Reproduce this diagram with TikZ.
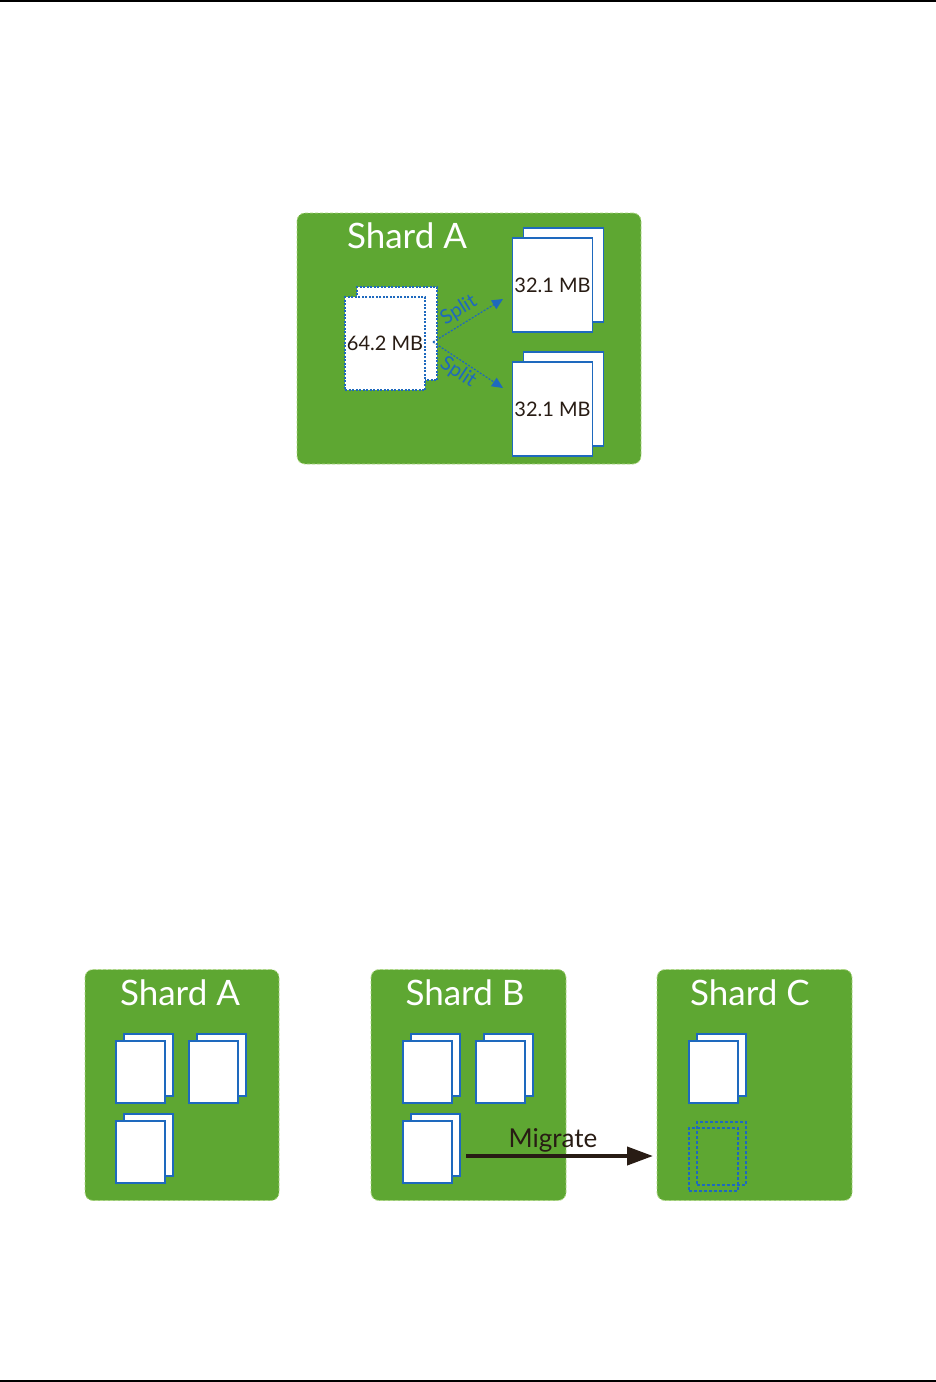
\documentclass[tikz,border=0pt]{standalone}
\usepackage{fontspec}
\setmainfont{Lato}
\usetikzlibrary{arrows.meta,shadows}
\definecolor{shardgreen}{RGB}{94,167,50}
\definecolor{shardedge}{RGB}{172,214,130}
\definecolor{chunkblue}{RGB}{30,105,190}
\definecolor{inkbrown}{RGB}{40,28,20}

\begin{document}
\begin{tikzpicture}[x=1pt, y=-1pt,
    shard/.style={draw=shardedge, fill=shardgreen, dash pattern=on 3pt off 2pt, line width=0.8pt, rounded corners=8pt, inner sep=0pt},
    title/.style={text=white, anchor=base, font=\fontsize{35}{40}\selectfont},
    page/.style={draw=chunkblue, fill=white, line width=1.3pt, inner sep=0pt},
    ghost/.style={dash pattern=on 3pt off 2pt},
    chunk/.style={page, minimum width=49pt, minimum height=62pt, copy shadow={shadow xshift=8pt, shadow yshift=7pt, page}},
    bigchunk/.style={page, minimum width=80pt, minimum height=94pt, text=inkbrown, font=\fontsize{20}{24}\selectfont},
    split/.style={chunkblue, line width=1.2pt, dash pattern=on 2pt off 1.5pt, -{Triangle[length=11pt, width=10pt]}},
    splitlabel/.style={text=chunkblue, inner sep=1pt, font=\fontsize{20}{24}\selectfont},
    migrate/.style={inkbrown, line width=4pt, -{Triangle[length=26pt, width=18pt]}}]
    \useasboundingbox (0,0) rectangle (936,1382);
    \draw[line width=1.5pt] (0,0.75) -- (936,0.75);
    \draw[line width=1.5pt] (0,1381) -- (936,1381);

    % Splitting a chunk
    \node[shard, minimum width=344pt, minimum height=251pt] (topshard) at (469,338.5) {};
    \node[title] (toptitle) at (407,248) {Shard A};
    \node[bigchunk, minimum height=93pt, dash pattern=on 2pt off 1.5pt,
        copy shadow={shadow xshift=12pt, shadow yshift=10pt, page, dash pattern=on 2pt off 1.5pt}] (big) at (385,343.5) {64.2 MB};
    \node[bigchunk, copy shadow={shadow xshift=11pt, shadow yshift=10pt, page}] (halfa) at (552.5,285) {32.1 MB};
    \node[bigchunk, copy shadow={shadow xshift=11pt, shadow yshift=10pt, page}] (halfb) at (552.5,409) {32.1 MB};
    \coordinate (splitfrom) at (433,342);
    \coordinate (splittoa) at (503,299);
    \coordinate (splittob) at (503,388);
    \draw[split] (splitfrom) -- node[pos=0.47, sloped, above=3pt, splitlabel] (splitlabela) {Split} (splittoa);
    \draw[split] (splitfrom) -- node[pos=0.45, sloped, below=1pt, splitlabel] (splitlabelb) {Split} (splittob);

    % Migrating a chunk
    \node[shard, minimum width=194pt, minimum height=231pt] (sharda) at (182,1085) {};
    \node[shard, minimum width=195pt, minimum height=231pt] (shardb) at (468.5,1085) {};
    \node[shard, minimum width=195pt, minimum height=231pt] (shardc) at (754.5,1085) {};
    \node[title] (titlea) at (180,1005) {Shard A};
    \node[title] (titleb) at (465,1005) {Shard B};
    \node[title] (titlec) at (750,1005) {Shard C};
    \node[chunk] (a1) at (140.5,1072) {}; \node[chunk] (a2) at (213.5,1072) {}; \node[chunk] (a3) at (140.5,1152) {};
    \node[chunk] (b1) at (427.5,1072) {}; \node[chunk] (b2) at (500.5,1072) {}; \node[chunk] (b3) at (427.5,1152) {};
    \node[chunk] (c1) at (713.5,1072) {};
    \node[page, ghost, fill=none, minimum width=49pt, minimum height=63pt,
        copy shadow={shadow xshift=8pt, shadow yshift=6pt, page, ghost, fill=none}] (c2) at (713.5,1159.5) {};
    \coordinate (migfrom) at (466,1156);
    \coordinate (migto) at (653,1156);
    \draw[migrate] (migfrom) -- (migto);
    \node[anchor=base, text=inkbrown, font=\fontsize{26}{30}\selectfont] (miglabel) at (553,1147) {Migrate};
\end{tikzpicture}
\end{document}
